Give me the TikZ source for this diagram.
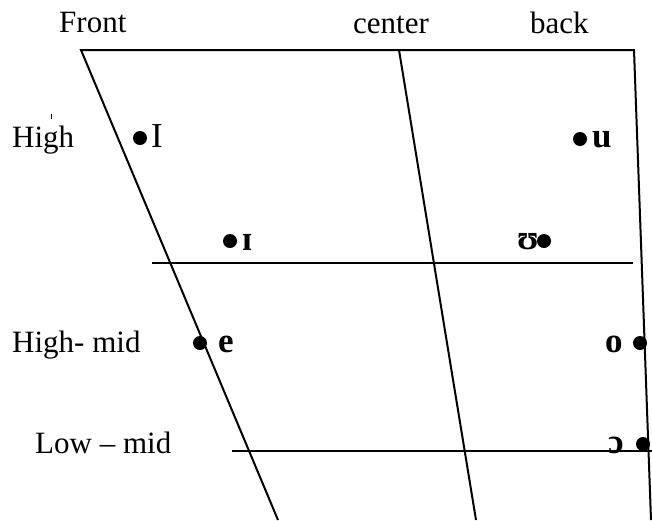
\documentclass[tikz,border=0pt]{standalone}
\usepackage{fontspec}
\setmainfont{Liberation Serif}
\begin{document}
\begin{tikzpicture}[x=1pt,y=-1pt,
  lbl/.style={anchor=base west, inner sep=0pt, font=\fontsize{31}{36}\selectfont},
  vow/.style={anchor=base west, inner sep=0pt, font=\fontsize{35}{40}\selectfont\bfseries},
  vowr/.style={anchor=base west, inner sep=0pt, font=\fontsize{35}{40}\selectfont},
  dotc/.style={circle, fill=black, inner sep=0pt, minimum size=14pt},
  ln/.style={line width=2pt}]
\useasboundingbox (0,0) rectangle (652,520);
% frame
\coordinate (TL) at (81,50);
\coordinate (TC) at (399,50);
\coordinate (TR) at (634,50);
\coordinate (BL) at (278,520);
\coordinate (BC) at (476,520);
\coordinate (BR) at (651,520);
\coordinate (H1a) at (152,263);
\coordinate (H1b) at (633,263);
\coordinate (H2a) at (232,451);
\coordinate (H2b) at (652,451);
\draw[ln] (BL) -- (TL) -- (TR) -- (BR);
\draw[ln] (TC) -- (BC);
\draw[ln] (H1a) -- (H1b);
\draw[ln] (H2a) -- (H2b);
% labels
\node[lbl] (front) at (59,32) {Front};
\node[lbl] (center) at (353,33) {center};
\node[lbl] (back) at (530,33) {back};
\node[lbl] (high) at (12,147) {High};
\node[lbl] (highmid) at (12,352) {High- mid};
\node[lbl] (lowmid) at (35,453) {Low – mid};
\coordinate (tk1) at (51,114);
\coordinate (tk2) at (51,118.5);
\draw[line width=1pt] (tk1) -- (tk2);
% vowels
\node[dotc] (d1) at (140,138) {};
\node[vowr] (v1) at (151,147) {I};
\node[dotc] (d2) at (580,139) {};
\node[vow] (v2) at (592,147) {u};
\node[dotc] (d3) at (230,241) {};
\node[vow] (v3) at (242,250) {ɪ};
\node[vow] (v4) at (517,249) {ʊ};
\node[dotc] (d4) at (544,241) {};
\node[dotc] (d5) at (200,343) {};
\node[vow] (v5) at (218,352) {e};
\node[vow] (v6) at (605,352) {o};
\node[dotc] (d6) at (640,343) {};
\node[vow] (v7) at (608,453) {ɔ};
\node[dotc] (d7) at (643,444) {};
\end{tikzpicture}
\end{document}
